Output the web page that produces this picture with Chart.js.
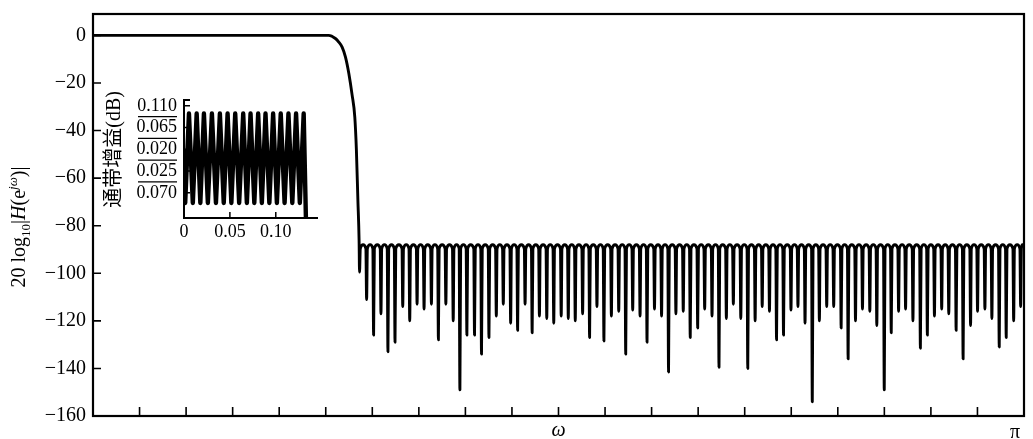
<!DOCTYPE html>
<html>
<head>
<meta charset="utf-8">
<script src="https://cdn.jsdelivr.net/npm/chart.js@4.4.1/dist/chart.umd.min.js"></script>
<style>
  html, body { margin: 0; padding: 0; background: #fff; }
  #wrap { position: relative; width: 1033px; height: 439px; }
  #main { position: absolute; left: 0; top: 0; }
  #inset { position: absolute; left: 100px; top: 82px; }
</style>
</head>
<body>
<div id="wrap">
  <canvas id="main" width="1033" height="439"></canvas>
  <canvas id="inset" width="225" height="165"></canvas>
</div>
<script>
// passband and transition band (omega in units of pi, gain in dB)
const passbandOmega = [0, 0.245, 0.2532, 0.2604, 0.2640, 0.2676, 0.2712, 0.2748, 0.2783, 0.2812, 0.2829, 0.2845, 0.2858, 0.2863];
const passbandGain  = [0, 0, 0, -1.3, -2.8, -4.9, -9.1, -16, -25, -34.3, -48, -69, -86, -99.5];

// stopband nulls
const nullOmega = [
  0.2939, 0.3014, 0.3093, 0.3168, 0.3244, 0.3327, 0.3402, 0.3481, 0.3556, 0.3635, 0.3710, 0.3790, 0.3869, 0.3941, 0.4016, 0.4098, 0.4173, 0.4253, 0.4332, 0.4407, 0.4486,
  0.4561, 0.4641, 0.4717, 0.4795, 0.4874, 0.4949, 0.5029, 0.5105, 0.5180, 0.5259, 0.5334, 0.5413, 0.5488, 0.5568, 0.5647, 0.5722, 0.5797, 0.5876, 0.5951, 0.6031, 0.6107, 0.6182, 0.6261,
  0.6340, 0.6415, 0.6495, 0.6570, 0.6649, 0.6724, 0.6803, 0.6878, 0.6958, 0.7033, 0.7112, 0.7188, 0.7266, 0.7342, 0.7417, 0.7497, 0.7572, 0.7648, 0.7726, 0.7802, 0.7881, 0.7956, 0.8036,
  0.8111, 0.8190, 0.8265, 0.8344, 0.8419, 0.8499, 0.8574, 0.8653, 0.8728, 0.8807, 0.8887, 0.8962, 0.9038, 0.9116, 0.9192, 0.9271, 0.9346, 0.9426, 0.9501, 0.9580, 0.9655, 0.9734, 0.9809, 0.9889, 0.9964
];
const nullGain = [
  -111, -126, -117, -133, -129, -114, -120, -113, -115, -113, -128, -113, -120, -149, -126, -126, -134, -127, -118, -113, -121,
  -124, -113, -125, -118, -119, -121, -118, -119, -120, -117, -127, -114, -128.5, -118, -116, -134, -115.5, -118, -129, -115, -118, -141.5, -117,
  -116, -127, -123, -115, -118, -139.5, -119, -113, -119, -140, -120, -114, -116, -128, -126, -115.5, -114, -121, -154, -120, -114, -114, -123,
  -136, -120, -115, -116, -122, -149, -125, -116, -115, -120, -131.5, -126, -118, -115, -117, -124, -136, -122, -116, -115, -119, -131, -127, -120, -114
];
const rippleTop = -88;       // level of the stopband lobes
const rippleShoulder = -89.6; // level where a lobe meets a null

const xTicks = [0, 0.05, 0.1, 0.15, 0.2, 0.25, 0.3, 0.35, 0.4, 0.45, 0.5, 0.55, 0.6, 0.65, 0.7, 0.75, 0.8, 0.85, 0.9, 0.95, 1];
const yTicks = [-160, -140, -120, -100, -80, -60, -40, -20, 0];

// inset: passband ripple
const insetOmega = [0, 0.0013, 0.0054, 0.0096, 0.0138, 0.0178, 0.0217, 0.0260, 0.0304, 0.0348, 0.0391, 0.0433, 0.0475, 0.0516, 0.0558, 0.0601, 0.0645, 0.0685, 0.0725, 0.0766, 0.0808, 0.0848, 0.0888, 0.0930, 0.0971, 0.1012, 0.1054, 0.1096, 0.1138, 0.1180, 0.1221, 0.1262, 0.1304, 0.1337];
const insetGain = [0.02, -0.091, 0.094, -0.091, 0.094, -0.091, 0.094, -0.091, 0.094, -0.091, 0.094, -0.091, 0.094, -0.091, 0.094, -0.091, 0.094, -0.091, 0.094, -0.091, 0.094, -0.091, 0.094, -0.091, 0.094, -0.091, 0.094, -0.091, 0.094, -0.091, 0.094, -0.091, 0.094, -0.2];
const insetXTicks = [0, 0.05, 0.1];
const insetYTicks = [-0.070, -0.025, 0.020, 0.065, 0.110];

const serif = '"Liberation Serif", "Times New Roman", serif';

// build the main curve: passband, then one lobe between every pair of nulls
const mainPoints = passbandOmega.map((w, i) => ({ x: w, y: passbandGain[i] }));
let prev = passbandOmega[passbandOmega.length - 1];
nullOmega.concat([1]).forEach((w, i) => {
    mainPoints.push({ x: prev + 0.0008, y: rippleShoulder });
    mainPoints.push({ x: (prev + w) / 2, y: rippleTop });
    if (i < nullOmega.length) {
        mainPoints.push({ x: w - 0.0008, y: rippleShoulder });
        mainPoints.push({ x: w, y: nullGain[i] });
    } else {
        mainPoints.push({ x: 1, y: rippleTop });
    }
    prev = w;
});

const insetPoints = insetOmega.map((w, i) => ({ x: w, y: insetGain[i] }));

// keep the plot box exactly where layout padding puts it
function noScalePadding(s) {
    s.paddingTop = 0;
    s.paddingBottom = 0;
    s.paddingLeft = 0;
    s.paddingRight = 0;
}

const mainFrame = {
    id: 'mainFrame',
    afterDraw(chart) {
        const { ctx, chartArea: a, scales: { x, y } } = chart;
        ctx.save();
        ctx.strokeStyle = '#000';
        ctx.lineWidth = 2.2;
        ctx.strokeRect(a.left, a.top, a.right - a.left, a.bottom - a.top);
        ctx.lineWidth = 1.6;
        ctx.beginPath();
        x.ticks.forEach(t => {
            const px = x.getPixelForValue(t.value);
            ctx.moveTo(px, a.bottom);
            ctx.lineTo(px, a.bottom - 9);
        });
        y.ticks.forEach(t => {
            const py = y.getPixelForValue(t.value);
            ctx.moveTo(a.left, py);
            ctx.lineTo(a.left + 8, py);
        });
        ctx.stroke();

        // y axis title: 20 log10|H(e^jω)|
        const parts = [
            { t: '20 log', font: '20px ' + serif, dy: 0 },
            { t: '10', font: '13px ' + serif, dy: 5 },
            { t: '|', font: '20px ' + serif, dy: 0 },
            { t: 'H', font: 'italic 20px ' + serif, dy: 0 },
            { t: '(e', font: '20px ' + serif, dy: 0 },
            { t: 'jω', font: 'italic 13px ' + serif, dy: -8 },
            { t: ')|', font: '20px ' + serif, dy: 0 }
        ];
        let total = 0;
        parts.forEach(p => { ctx.font = p.font; p.w = ctx.measureText(p.t).width; total += p.w; });
        ctx.translate(18, (a.top + a.bottom) / 2 + 12);
        ctx.rotate(-Math.PI / 2);
        ctx.fillStyle = '#000';
        ctx.textBaseline = 'alphabetic';
        let cx = -total / 2;
        parts.forEach(p => {
            ctx.font = p.font;
            ctx.fillText(p.t, cx, 7 + p.dy);
            cx += p.w;
        });
        ctx.restore();
    }
};

const insetFrame = {
    id: 'insetFrame',
    afterDraw(chart) {
        const { ctx, chartArea: a, scales: { x, y } } = chart;
        ctx.save();
        ctx.strokeStyle = '#000';
        ctx.lineWidth = 2;
        ctx.beginPath();
        ctx.moveTo(a.left + 6, a.top);
        ctx.lineTo(a.left, a.top);
        ctx.lineTo(a.left, a.bottom);
        ctx.lineTo(a.right, a.bottom);
        ctx.stroke();
        ctx.lineWidth = 1.5;
        ctx.beginPath();
        x.ticks.forEach(t => {
            if (t.value === 0) return;
            const px = x.getPixelForValue(t.value);
            ctx.moveTo(px, a.bottom);
            ctx.lineTo(px, a.bottom - 6);
        });
        y.ticks.forEach(t => {
            const py = y.getPixelForValue(t.value);
            ctx.moveTo(a.left, py);
            ctx.lineTo(a.left + 6, py);
        });
        ctx.stroke();
        // rules between the tick labels
        ctx.lineWidth = 1.3;
        ctx.beginPath();
        for (let i = 1; i < y.ticks.length; i++) {
            const py = (y.getPixelForValue(y.ticks[i - 1].value) + y.getPixelForValue(y.ticks[i].value)) / 2;
            ctx.moveTo(a.left - 46, py);
            ctx.lineTo(a.left - 7, py);
        }
        ctx.stroke();
        // axis title
        ctx.translate(a.left - 69, y.getPixelForValue(0.02));
        ctx.rotate(-Math.PI / 2);
        ctx.fillStyle = '#000';
        ctx.font = '20px ' + serif + ', "Noto Sans CJK SC"';
        ctx.textAlign = 'center';
        ctx.textBaseline = 'middle';
        ctx.fillText('通带增益(dB)', 0, 0);
        ctx.restore();
    }
};

new Chart(document.getElementById('main'), {
    type: 'scatter',
    data: {
        datasets: [{
            data: mainPoints,
            showLine: true,
            borderColor: '#000',
            borderWidth: 2.9,
            pointRadius: 0,
            cubicInterpolationMode: 'monotone',
            borderJoinStyle: 'round',
            borderCapStyle: 'round'
        }]
    },
    options: {
        responsive: false,
        animation: false,
        events: [],
        layout: { padding: { left: 0, top: 14, right: 9, bottom: 0 } },
        plugins: { legend: { display: false }, tooltip: { enabled: false } },
        scales: {
            x: {
                type: 'linear',
                min: 0,
                max: 1,
                afterBuildTicks: s => { s.ticks = xTicks.map(v => ({ value: v })); },
                afterFit: s => { s.height = 23; noScalePadding(s); },
                grid: { display: false, drawTicks: false },
                border: { display: false },
                ticks: {
                    autoSkip: false,
                    maxRotation: 0,
                    padding: 5,
                    labelOffset: -9,
                    color: '#000',
                    font: { family: serif, size: 20 },
                    callback: v => (v === 1 ? 'π' : '')
                },
                title: {
                    display: true,
                    text: 'ω',
                    color: '#000',
                    padding: 0,
                    font: { family: serif, size: 20, style: 'italic', lineHeight: 0.8 }
                }
            },
            y: {
                type: 'linear',
                min: -160,
                max: 9,
                afterBuildTicks: s => { s.ticks = yTicks.map(v => ({ value: v })); },
                afterFit: s => { s.width = 93; noScalePadding(s); },
                grid: { display: false, drawTicks: false },
                border: { display: false },
                ticks: {
                    padding: 7,
                    color: '#000',
                    font: { family: serif, size: 20 },
                    callback: v => (v < 0 ? '\u2212' + Math.abs(v) : String(v))
                }
            }
        }
    },
    plugins: [mainFrame]
});

new Chart(document.getElementById('inset'), {
    type: 'scatter',
    data: {
        datasets: [{
            data: insetPoints,
            showLine: true,
            borderColor: '#000',
            borderWidth: 4.4,
            pointRadius: 0,
            tension: 0,
            borderJoinStyle: 'round'
        }]
    },
    options: {
        responsive: false,
        animation: false,
        events: [],
        layout: { padding: { left: 0, top: 18, right: 7, bottom: 0 } },
        plugins: { legend: { display: false }, tooltip: { enabled: false } },
        scales: {
            x: {
                type: 'linear',
                min: 0,
                max: 0.146,
                afterBuildTicks: s => { s.ticks = insetXTicks.map(v => ({ value: v })); },
                afterFit: s => { s.height = 29; noScalePadding(s); },
                grid: { display: false, drawTicks: false },
                border: { display: false },
                ticks: {
                    autoSkip: false,
                    maxRotation: 0,
                    padding: 3,
                    color: '#000',
                    font: { family: serif, size: 18 },
                    callback: v => (v === 0 ? '0' : v.toFixed(2))
                }
            },
            y: {
                type: 'linear',
                min: -0.122,
                max: 0.122,
                afterBuildTicks: s => { s.ticks = insetYTicks.map(v => ({ value: v })); },
                afterFit: s => { s.width = 84; noScalePadding(s); },
                grid: { display: false, drawTicks: false },
                border: { display: false },
                ticks: {
                    padding: 7,
                    color: '#000',
                    font: { family: serif, size: 18 },
                    callback: v => Math.abs(v).toFixed(3)
                }
            }
        }
    },
    plugins: [insetFrame]
});
</script>
</body>
</html>
